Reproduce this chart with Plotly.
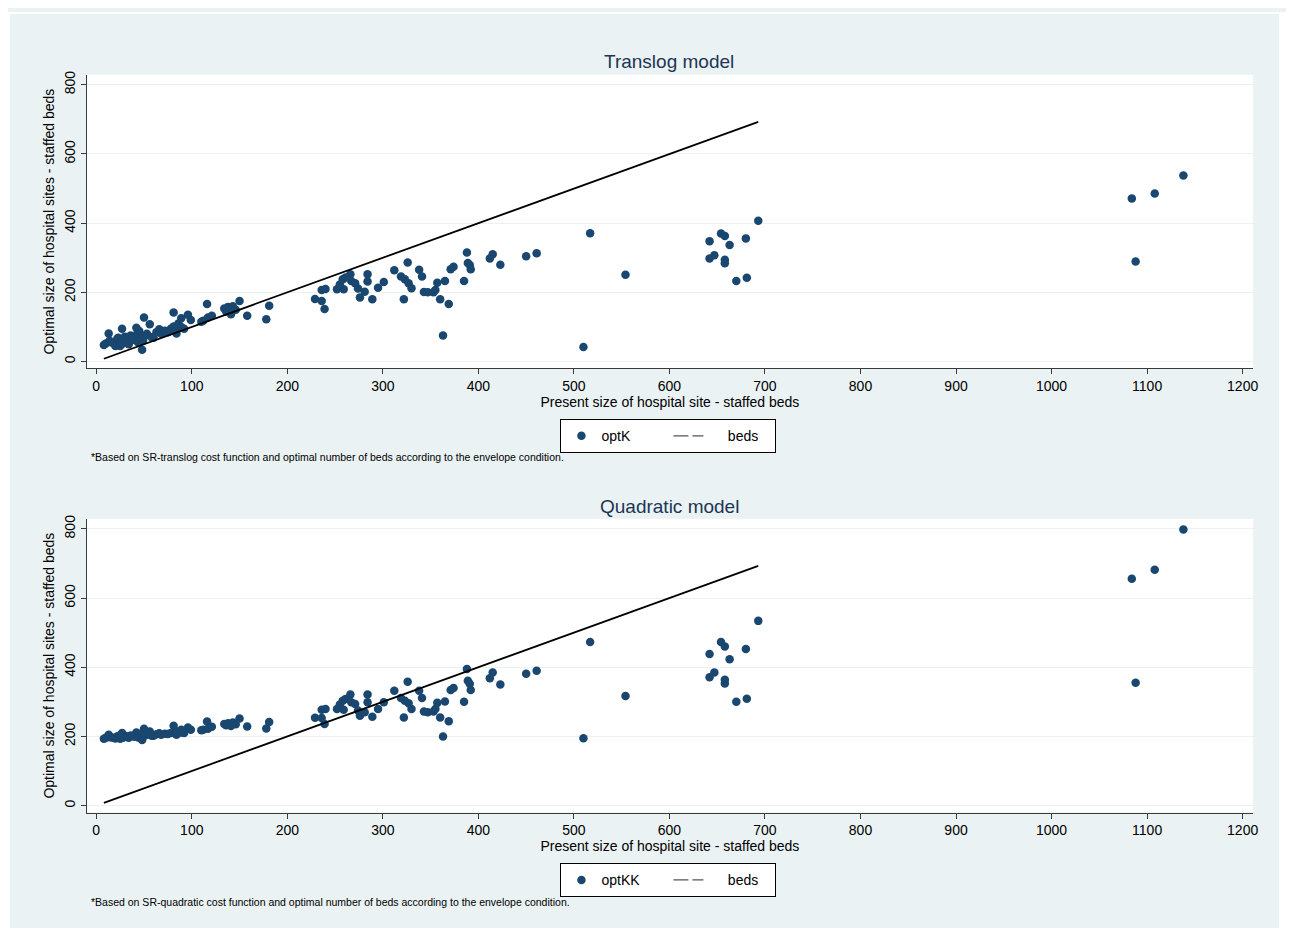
import plotly.graph_objects as go

# ---------------- data ----------------
beds = [8, 10, 13, 14, 16, 19, 20, 22, 23, 25, 26, 27, 28, 29, 30, 32, 33, 34, 36, 38,
        40, 42, 43, 44, 45, 46, 48, 49, 50, 51, 53, 56, 58, 60, 63, 66, 68, 72, 75, 78,
        81, 81, 83, 84, 86, 89, 89, 92, 96, 99, 110, 112, 116, 117, 121, 134, 136, 138, 141, 143,
        146, 150, 158, 178, 181,
        229, 236, 239, 236, 240, 252, 255, 258, 259, 261, 266, 267, 271, 274, 276, 281, 284, 284, 289, 295,
        301, 312, 319, 323, 322, 326, 327, 330, 338, 341, 343, 347, 353, 355, 357, 360, 363, 365, 369, 371,
        374, 385, 388, 389, 391, 392, 412, 415, 423, 450, 461,
        517, 510, 554, 642, 654, 658, 663, 680, 693, 642, 647, 658, 658, 670, 681,
        1084, 1088, 1108, 1138]

optK = [48, 52, 81, 60, 55, 55, 45, 66, 69, 45, 58, 95, 52, 62, 72, 64, 58, 50, 75, 69,
        62, 98, 82, 55, 88, 70, 34, 60, 127, 74, 80, 108, 70, 69, 85, 93, 80, 89, 85, 95,
        142, 101, 90, 81, 110, 125, 100, 95, 135, 120, 115, 118, 166, 127, 132, 153, 145, 158, 137, 160,
        150, 175, 132, 122, 161,
        181, 175, 152, 207, 210, 209, 223, 238, 209, 243, 252, 233, 226, 211, 185, 202, 252, 231, 180, 213,
        230, 264, 246, 238, 180, 286, 226, 212, 265, 246, 201, 200, 200, 207, 228, 180, 75, 233, 166, 267,
        274, 233, 315, 285, 279, 267, 298, 310, 280, 304, 313,
        371, 42, 251, 348, 370, 363, 337, 356, 407, 298, 307, 294, 284, 233, 242,
        471, 289, 486, 538]

optKK = [193, 196, 205, 198, 197, 196, 194, 200, 201, 193, 198, 210, 196, 199, 202, 200, 198, 196, 203, 201,
         199, 211, 205, 197, 207, 201, 190, 199, 222, 203, 205, 214, 202, 202, 206, 209, 205, 208, 207, 210,
         231, 212, 208, 205, 214, 219, 211, 210, 226, 219, 218, 219, 243, 222, 228, 236, 232, 238, 230, 240,
         235, 252, 229, 223, 242,
         254, 253, 236, 277, 279, 279, 292, 303, 277, 308, 321, 299, 294, 275, 260, 270, 321, 299, 257, 279,
         299, 332, 311, 303, 255, 358, 296, 279, 332, 311, 272, 270, 272, 279, 297, 255, 200, 301, 244, 334,
         340, 300, 395, 361, 352, 334, 368, 385, 350, 381, 390,
         473, 195, 317, 438, 473, 460, 423, 453, 534, 371, 385, 364, 353, 300, 309,
         656, 355, 682, 798]

x_ticks = list(range(0, 1300, 100))
y_ticks = [0, 200, 400, 600, 800]

titles = ["Translog model", "Quadratic model"]
notes = ["*Based on SR-translog cost function and optimal number of beds according to the envelope condition.",
         "*Based on SR-quadratic cost function and optimal number of beds according to the envelope condition."]
series_names = ["optK", "optKK"]
x_title = "Present size of hospital site - staffed beds"
y_title = "Optimal size of hospital sites - staffed beds"

# ---------------- layout helpers ----------------
# The page body has an 8px margin, so the figure is drawn 8px smaller and
# all pixel positions below are relative to the figure's own top-left corner.
W, H = 1286, 930
BG = "#EAF2F3"
NAVY = "#1A476F"
AXC = "#3a3a3a"
FONT = "Liberation Sans, Arial, sans-serif"


def fx(p):
    return p / W


def fy(p):
    return 1 - p / H


line_beds = sorted(b for b in beds if b <= 700)

fig = go.Figure()

panels = [
    dict(xa="x", ya="y", leg="legend", top=63, bot=358, title_y=50, leg_y=409, note_y=447, vals=optK),
    dict(xa="x2", ya="y2", leg="legend2", top=509, bot=804, title_y=497, leg_y=855, note_y=894, vals=optKK),
]

for i, p in enumerate(panels):
    fig.add_trace(go.Scatter(
        x=beds, y=p["vals"], mode="markers", name=series_names[i],
        marker=dict(color=NAVY, size=8.5, line=dict(width=0)),
        xaxis=p["xa"], yaxis=p["ya"], legend=p["leg"], hoverinfo="x+y"))
    fig.add_trace(go.Scatter(
        x=line_beds, y=line_beds, mode="lines", name="beds",
        line=dict(color="black", width=1.8), showlegend=False,
        xaxis=p["xa"], yaxis=p["ya"]))
    fig.add_trace(go.Scatter(
        x=[None], y=[None], mode="lines", name="\u00a0\u00a0\u00a0\u00a0\u00a0beds",
        line=dict(color="#555555", width=1.2, dash="15px,4px"),
        xaxis=p["xa"], yaxis=p["ya"], legend=p["leg"]))

white_strips = [
    (0, 0, 2, H), (0, 0, W, 2), (W - 10, 0, W, H), (0, H - 10, W, H),
]
shapes = []
for (x0, y0, x1, y1) in white_strips:
    shapes.append(dict(type="rect", xref="paper", yref="paper",
                       x0=fx(x0), x1=fx(x1), y0=fy(y1), y1=fy(y0),
                       line=dict(width=0), fillcolor="white", layer="above"))

layout = dict(
    width=W, height=H,
    margin=dict(l=0, r=0, t=0, b=0),
    paper_bgcolor=BG, plot_bgcolor="white",
    font=dict(family=FONT, size=14, color="black"),
    showlegend=True,
    shapes=shapes,
    annotations=[],
)

for i, p in enumerate(panels):
    sx = "" if i == 0 else "2"
    layout["xaxis" + sx] = dict(
        domain=[fx(79), fx(1250)], anchor="y" + sx, range=[-10, 1211],
        tickvals=x_ticks, showgrid=False, zeroline=False,
        showline=True, linecolor=AXC, linewidth=1,
        ticks="outside", ticklen=5, tickcolor=AXC,
        tickfont=dict(size=14, family=FONT),
        title=dict(text=x_title, font=dict(size=14, family=FONT), standoff=2))
    layout["yaxis" + sx] = dict(
        domain=[fy(p["bot"]), fy(p["top"])], anchor="x" + sx, range=[-20, 829],
        tickvals=y_ticks, tickangle=-90, showgrid=True, gridcolor=BG, gridwidth=1.2,
        zeroline=False, showline=True, linecolor=AXC, linewidth=1,
        ticks="outside", ticklen=5, tickcolor=AXC,
        tickfont=dict(size=14, family=FONT),
        title=dict(text=y_title, font=dict(size=14, family=FONT), standoff=4))
    layout[p["leg"]] = dict(
        orientation="h", x=fx(663), xanchor="center", y=fy(p["leg_y"]), yanchor="top",
        bgcolor="white", bordercolor="black", borderwidth=1,
        font=dict(size=14, family=FONT), entrywidth=62, itemwidth=30,
        traceorder="normal")
    layout["annotations"].append(dict(
        text=titles[i], x=fx(664), y=fy(p["title_y"]), xref="paper", yref="paper",
        showarrow=False, xanchor="center", yanchor="middle",
        font=dict(size=19, family=FONT, color="#1E3555")))
    layout["annotations"].append(dict(
        text=notes[i], x=fx(81), y=fy(p["note_y"]), xref="paper", yref="paper",
        showarrow=False, xanchor="left", yanchor="middle",
        font=dict(size=10.5, family=FONT, color="black")))

fig.update_layout(**layout)
fig.write_html("out.html")
